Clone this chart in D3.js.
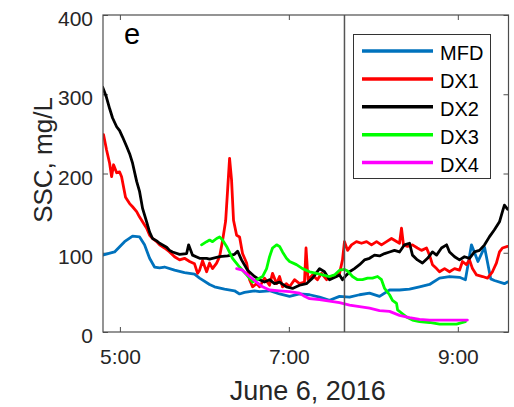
<!DOCTYPE html>
<html>
<head>
<meta charset="utf-8">
<script src="https://cdn.jsdelivr.net/npm/d3@7"></script>
<style>
  html, body { margin: 0; padding: 0; background: #fff; }
  svg { display: block; font-family: "Liberation Sans", Arial, Helvetica, sans-serif; }
</style>
</head>
<body>
<svg id="chart" width="514" height="407"></svg>
<script>
// ---- Data (time = minutes after 05:00 on June 6, 2016; SSC in mg/L) ----
const seriesNames = ["MFD", "DX1", "DX2", "DX3", "DX4"];
const seriesColors = ["#0072BD", "#FF0000", "#000000", "#00FF00", "#FF00FF"];

const mfdTime = [-12.3, -3.8, 3.3, 9.0, 14.0, 17.5, 21.1, 24.6, 28.2, 31.7, 38.8, 45.9, 53.0, 56.6, 63.7, 67.2, 74.3, 81.4, 85.0, 88.5, 95.6, 99.2, 106.3, 113.4, 120.5, 127.6, 134.7, 141.8, 148.9, 156.0, 163.1, 170.2, 177.3, 184.4, 191.5, 198.6, 205.7, 212.8, 219.9, 227.0, 234.1, 241.2, 245.4, 249.7, 254.3, 259.0, 263.4, 266.0, 273.1, 275.3];
const mfdSSC  = [97, 101, 114, 121, 120, 110, 93, 82, 81, 82, 78, 75, 73, 68, 60, 57, 54, 52, 48, 50, 52, 51, 52, 48, 45, 48, 47, 44, 40, 45, 44, 47, 49, 45, 53, 53, 54, 57, 60, 68, 70, 69, 66, 110, 89, 107, 67, 65, 61, 63];

const dx1Time = [-11.6, -9.5, -7.3, -5.9, -4.5, -2.3, -0.2, 1.2, 2.6, 4.0, 6.9, 9.0, 11.9, 14.0, 16.1, 19.0, 21.1, 23.2, 26.1, 28.2, 31.7, 35.3, 38.8, 42.4, 45.9, 49.5, 53.0, 55.2, 56.6, 58.7, 61.6, 63.7, 65.8, 68.7, 70.8, 72.9, 75.1, 76.5, 77.9, 79.3, 80.7, 82.9, 85.0, 87.1, 90.0, 92.1, 94.2, 97.1, 99.2, 102.7, 106.3, 108.4, 111.3, 113.4, 115.5, 118.3, 120.5, 124.0, 127.6, 131.1, 132.2, 133.6, 136.8, 140.3, 143.2, 146.8, 150.3, 153.9, 156.0, 158.1, 159.5, 161.7, 164.5, 168.0, 171.6, 175.2, 178.7, 182.3, 185.8, 189.4, 192.9, 198.6, 200.0, 201.4, 204.3, 207.8, 211.3, 214.2, 217.8, 219.9, 222.0, 224.9, 227.0, 230.6, 234.1, 237.7, 241.2, 243.3, 246.1, 248.3, 250.4, 253.3, 257.6, 261.1, 264.6, 267.4, 269.6, 271.7, 275.3];
const dx1SSC  = [249, 230, 213, 196, 211, 201, 202, 196, 183, 170, 162, 158, 152, 145, 139, 131, 122, 118, 114, 110, 106, 101, 95, 91, 93, 89, 86, 74, 78, 90, 76, 87, 80, 87, 95, 115, 140, 179, 219, 192, 141, 122, 120, 99, 87, 66, 57, 61, 57, 68, 59, 74, 61, 70, 57, 61, 57, 66, 61, 63, 106, 66, 72, 66, 74, 66, 70, 72, 74, 91, 114, 103, 110, 114, 112, 114, 110, 114, 110, 114, 118, 112, 131, 110, 108, 110, 106, 103, 106, 97, 85, 80, 76, 80, 76, 80, 78, 89, 85, 91, 80, 72, 70, 68, 76, 87, 101, 106, 108];

const dx2Time = [-12.3, -9.7, -7.3, -5.2, -2.3, -0.2, 1.9, 4.8, 6.9, 9.0, 11.9, 14.0, 16.1, 19.0, 21.1, 23.2, 26.1, 28.2, 33.2, 35.3, 37.4, 42.4, 47.4, 48.8, 51.6, 56.6, 61.6, 63.7, 70.8, 76.5, 81.4, 83.6, 86.4, 90.7, 95.6, 99.2, 102.7, 106.3, 109.8, 113.4, 118.3, 122.6, 127.6, 132.5, 136.8, 141.8, 145.3, 148.9, 153.9, 156.0, 158.1, 161.0, 163.1, 166.6, 170.2, 173.7, 177.3, 180.8, 184.4, 188.0, 191.5, 195.0, 198.6, 202.1, 205.7, 207.8, 211.3, 214.9, 218.5, 222.0, 224.9, 228.4, 232.0, 234.1, 237.7, 241.2, 244.7, 248.3, 251.8, 255.4, 259.0, 262.4, 266.0, 269.6, 271.7, 273.1, 275.3];
const dx2SSC  = [309, 297, 282, 270, 259, 254, 246, 234, 225, 213, 190, 177, 156, 139, 126, 118, 115, 112, 107, 103, 101, 98, 99, 110, 97, 93, 93, 92, 95, 96, 98, 102, 91, 78, 70, 66, 63, 66, 61, 63, 57, 55, 59, 61, 68, 80, 76, 66, 70, 72, 66, 72, 76, 80, 85, 91, 93, 97, 96, 99, 101, 103, 101, 110, 112, 97, 91, 87, 93, 101, 97, 106, 110, 101, 95, 91, 95, 93, 101, 103, 110, 120, 129, 139, 152, 160, 155];

const dx3Time = [58.0, 61.6, 63.7, 65.8, 68.7, 70.8, 72.9, 75.8, 80.0, 85.0, 90.0, 94.2, 97.1, 101.3, 104.2, 106.3, 108.4, 111.3, 113.4, 115.5, 118.3, 120.5, 125.4, 129.7, 134.7, 139.6, 143.9, 148.9, 152.4, 156.0, 159.5, 161.7, 165.2, 168.8, 172.3, 175.9, 179.4, 183.0, 185.8, 188.0, 191.5, 193.6, 196.5, 197.2, 200.0, 203.5, 207.8, 212.8, 219.9, 227.0, 234.1, 239.1, 245.4];
const dx3SSC  = [110, 114, 116, 114, 118, 120, 116, 108, 93, 82, 72, 63, 66, 70, 80, 95, 106, 110, 108, 101, 93, 89, 85, 80, 76, 74, 72, 70, 72, 78, 79, 77, 70, 66, 66, 68, 68, 70, 66, 55, 47, 40, 36, 28, 24, 19, 15, 13, 12, 10, 10, 10, 13];

const dx4Time = [82.9, 87.1, 92.1, 97.1, 101.3, 106.3, 113.4, 120.5, 127.6, 131.1, 134.7, 141.8, 148.9, 156.0, 163.1, 170.2, 177.3, 184.4, 191.5, 198.6, 205.7, 212.8, 219.9, 246.8];
const dx4SSC  = [80, 78, 70, 63, 57, 53, 52, 51, 49, 45, 42, 41, 39, 37, 34, 32, 30, 27, 26, 21, 18, 16, 15, 15];

const xDomainMinutes = [-12, 276];        // 4:48 .. 9:36
const xTickMinutes = [0, 120, 240];       // 5:00, 7:00, 9:00
const yTicks = [0, 100, 200, 300, 400];
const markerLineMinutes = 159.5;          // vertical reference line
const panelLabel = "e";
const xLabel = "June 6, 2016";
const yLabel = "SSC, mg/L";

// ---- Helpers ----
const base = new Date(2016, 5, 6, 5, 0, 0);
const toDate = m => new Date(base.getTime() + m * 60000);

const allTimes = [mfdTime, dx1Time, dx2Time, dx3Time, dx4Time];
const allValues = [mfdSSC, dx1SSC, dx2SSC, dx3SSC, dx4SSC];
const series = seriesNames.map((name, i) => ({
  name, color: seriesColors[i],
  points: allTimes[i].map((t, j) => ({ t: toDate(t), v: allValues[i][j] }))
}));

// ---- Layout ----
const L = 103, R = 508.5, T = 15, B = 332;
const svg = d3.select("#chart");

const x = d3.scaleTime().domain(xDomainMinutes.map(toDate)).range([L, R]);
const y = d3.scaleLinear().domain([0, 400]).range([B, T]);

const axisColor = "#4d4d4d";
const textColor = "#262626";

svg.append("defs").append("clipPath").attr("id", "clip")
  .append("rect").attr("x", L).attr("y", T).attr("width", R - L).attr("height", B - T);

// Bottom axis (ticks inward)
const fmt = d3.timeFormat("%-H:%M");
const xAxis = d3.axisBottom(x).tickValues(xTickMinutes.map(toDate)).tickSize(-5).tickPadding(0).tickFormat(fmt);
const gx = svg.append("g").attr("transform", `translate(0,${B})`).call(xAxis);
gx.select(".domain").remove();
gx.selectAll(".tick line").attr("stroke", axisColor);
gx.selectAll(".tick text").attr("y", 31.5).attr("dy", null)
  .attr("font-size", 21).attr("fill", textColor).attr("font-family", "Liberation Sans, Arial, sans-serif");

// Top mirrored ticks
const gxt = svg.append("g").attr("transform", `translate(0,${T})`)
  .call(d3.axisTop(x).tickValues(xTickMinutes.map(toDate)).tickSize(-5).tickFormat(""));
gxt.select(".domain").remove();
gxt.selectAll(".tick line").attr("stroke", axisColor);

// Left axis
const yAxis = d3.axisLeft(y).tickValues(yTicks).tickSize(-5).tickPadding(10).tickFormat(d3.format("d"));
const gy = svg.append("g").attr("transform", `translate(${L},0)`).call(yAxis);
gy.select(".domain").remove();
gy.selectAll(".tick line").attr("stroke", axisColor);
gy.selectAll(".tick text").attr("dy", null).attr("y", 10.5)
  .attr("font-size", 21).attr("fill", textColor).attr("font-family", "Liberation Sans, Arial, sans-serif");

// Right mirrored ticks
const gyr = svg.append("g").attr("transform", `translate(${R},0)`)
  .call(d3.axisRight(y).tickValues(yTicks).tickSize(-5).tickFormat(""));
gyr.select(".domain").remove();
gyr.selectAll(".tick line").attr("stroke", axisColor);

// Series lines
const line = d3.line().x(d => x(d.t)).y(d => y(d.v));
const gLines = svg.append("g").attr("clip-path", "url(#clip)");
series.forEach(s => {
  gLines.append("path").datum(s.points)
    .attr("d", line)
    .attr("fill", "none")
    .attr("stroke", s.color)
    .attr("stroke-width", 2.8)
    .attr("stroke-linejoin", "round")
    .attr("stroke-linecap", "round");
});

// Vertical reference line
svg.append("line")
  .attr("x1", x(toDate(markerLineMinutes))).attr("x2", x(toDate(markerLineMinutes)))
  .attr("y1", T).attr("y2", B)
  .attr("stroke", "#555").attr("stroke-width", 1.5);

// Frame
svg.append("rect").attr("x", L).attr("y", T).attr("width", R - L).attr("height", B - T)
  .attr("fill", "none").attr("stroke", axisColor).attr("stroke-width", 1.2);

// Panel label
svg.append("text").attr("x", 124).attr("y", 44).attr("font-size", 29).attr("fill", "#000")
  .text(panelLabel);

// Axis labels
svg.append("text").attr("x", (L + R) / 2 + 2).attr("y", 400).attr("text-anchor", "middle")
  .attr("font-size", 27).attr("fill", textColor).text(xLabel);
svg.append("text").attr("transform", "translate(52,160) rotate(-90)").attr("text-anchor", "middle")
  .attr("font-size", 26).attr("fill", textColor).text(yLabel);

// Legend
const lg = svg.append("g");
lg.append("rect").attr("x", 353.5).attr("y", 34.5).attr("width", 137).attr("height", 144)
  .attr("fill", "#fff").attr("stroke", "#333").attr("stroke-width", 1);
series.forEach((s, i) => {
  const yy = 51 + i * 27.9;
  lg.append("line").attr("x1", 362).attr("x2", 433).attr("y1", yy).attr("y2", yy)
    .attr("stroke", s.color).attr("stroke-width", 3.5);
  lg.append("text").attr("x", 440).attr("y", yy + 9).attr("font-size", 20).attr("fill", "#000")
    .text(s.name);
});
</script>
</body>
</html>
